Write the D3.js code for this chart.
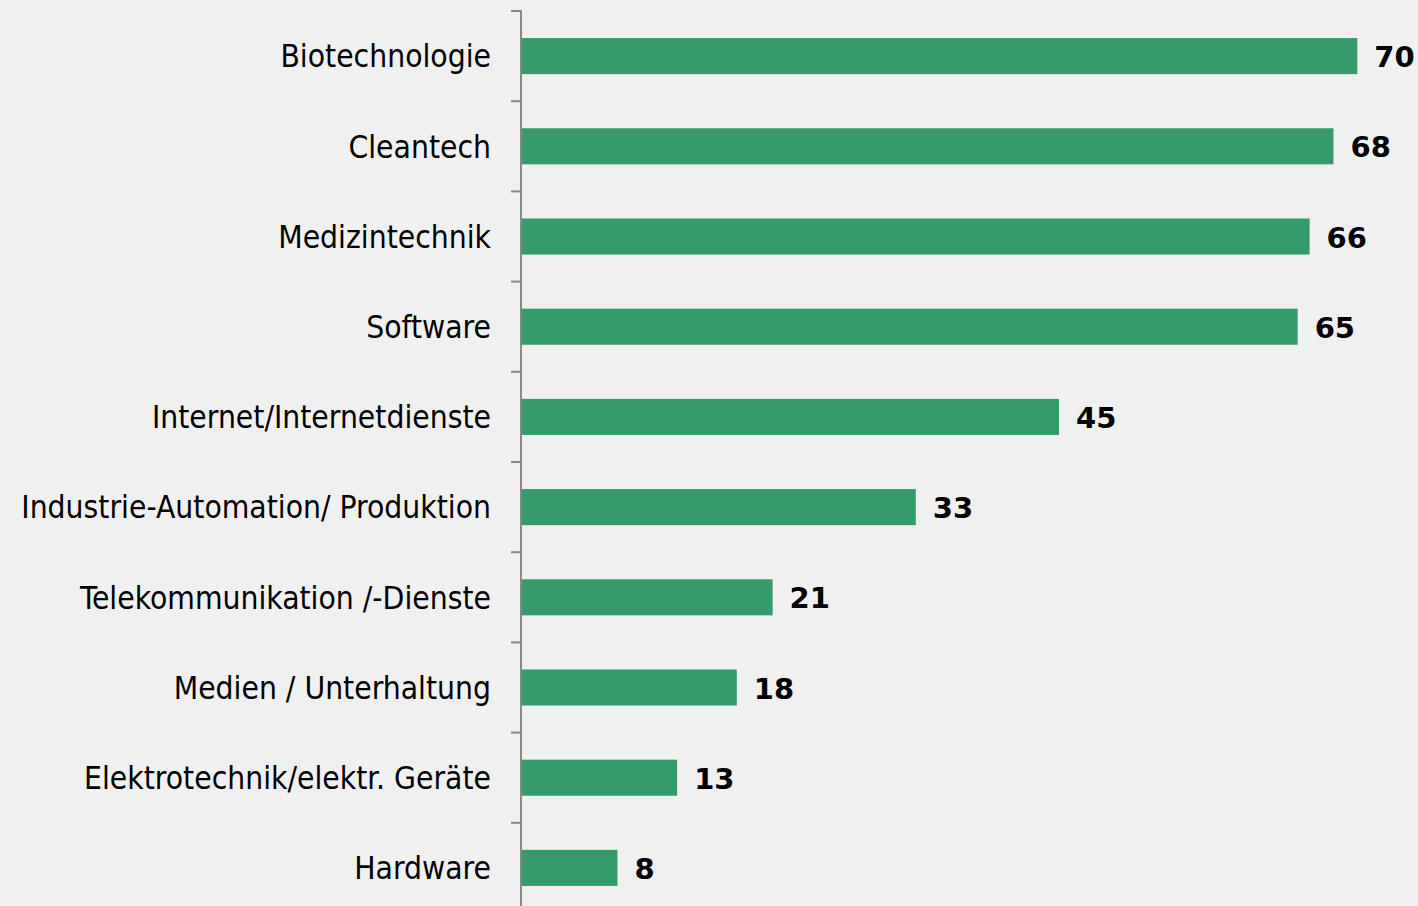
<!DOCTYPE html>
<html>
<head>
<meta charset="utf-8">
<script src="https://cdn.jsdelivr.net/npm/d3@7"></script>
<style>
  body { margin: 0; background: #f0f0f0; }
  svg { display: block; }
</style>
</head>
<body>
<svg id="chart" width="1418" height="906"></svg>
<script>
// data
const categories = [
  "Biotechnologie",
  "Cleantech",
  "Medizintechnik",
  "Software",
  "Internet/Internetdienste",
  "Industrie-Automation/ Produktion",
  "Telekommunikation /-Dienste",
  "Medien / Unterhaltung",
  "Elektrotechnik/elektr. Geräte",
  "Hardware"
];
const values = [70, 68, 66, 65, 45, 33, 21, 18, 13, 8];

const width = 1418, height = 906;
const margin = {top: 10, left: 522, right: 1};

const svg = d3.select("svg#chart");

svg.append("rect")
  .attr("width", width).attr("height", height)
  .attr("fill", "#f0f0f0");

const data = categories.map((c, i) => ({name: c, value: values[i]}));

const x = d3.scaleLinear()
  .domain([0, 75])
  .range([margin.left, width - margin.right]);

const y = d3.scaleBand()
  .domain(categories)
  .range([margin.top + 1, 913])
  .paddingInner(0.6)
  .paddingOuter(0.3);

// band edges for the tick marks
const step = y.step();
const bandTop = c => y(c) - y.paddingOuter() * step;

// bars
svg.append("g").selectAll("rect")
  .data(data)
  .enter()
  .append("rect")
  .attr("x", x(0))
  .attr("y", d => y(d.name))
  .attr("width", d => x(d.value) - x(0))
  .attr("height", y.bandwidth())
  .attr("fill", "#359b6a");

// axis line + tick marks at band boundaries
const axis = svg.append("g").attr("stroke", "#888888").attr("stroke-width", 2);
axis.append("line")
  .attr("x1", x(0) - 1).attr("x2", x(0) - 1)
  .attr("y1", margin.top).attr("y2", height);
axis.selectAll("line.tick")
  .data(categories)
  .enter()
  .append("line")
  .attr("class", "tick")
  .attr("x1", x(0) - 11).attr("x2", x(0) - 1)
  .attr("y1", d => bandTop(d)).attr("y2", d => bandTop(d));

// category labels
svg.append("g").selectAll("text")
  .data(data)
  .enter()
  .append("text")
  .attr("x", x(0) - 31)
  .attr("y", d => y(d.name) + y.bandwidth() / 2)
  .attr("dy", "0.36em")
  .attr("text-anchor", "end")
  .attr("font-family", "'DejaVu Sans Condensed', 'DejaVu Sans', sans-serif")
  .attr("font-size", 31.5)
  .attr("fill", "#000")
  .text(d => d.name);

// value labels
svg.append("g").selectAll("text")
  .data(data)
  .enter()
  .append("text")
  .attr("x", d => x(d.value) + 17)
  .attr("y", d => y(d.name) + y.bandwidth() / 2)
  .attr("dy", "0.38em")
  .attr("font-family", "'DejaVu Sans', sans-serif")
  .attr("font-weight", "bold")
  .attr("font-size", 29)
  .attr("fill", "#000")
  .text(d => d.value);
</script>
</body>
</html>
